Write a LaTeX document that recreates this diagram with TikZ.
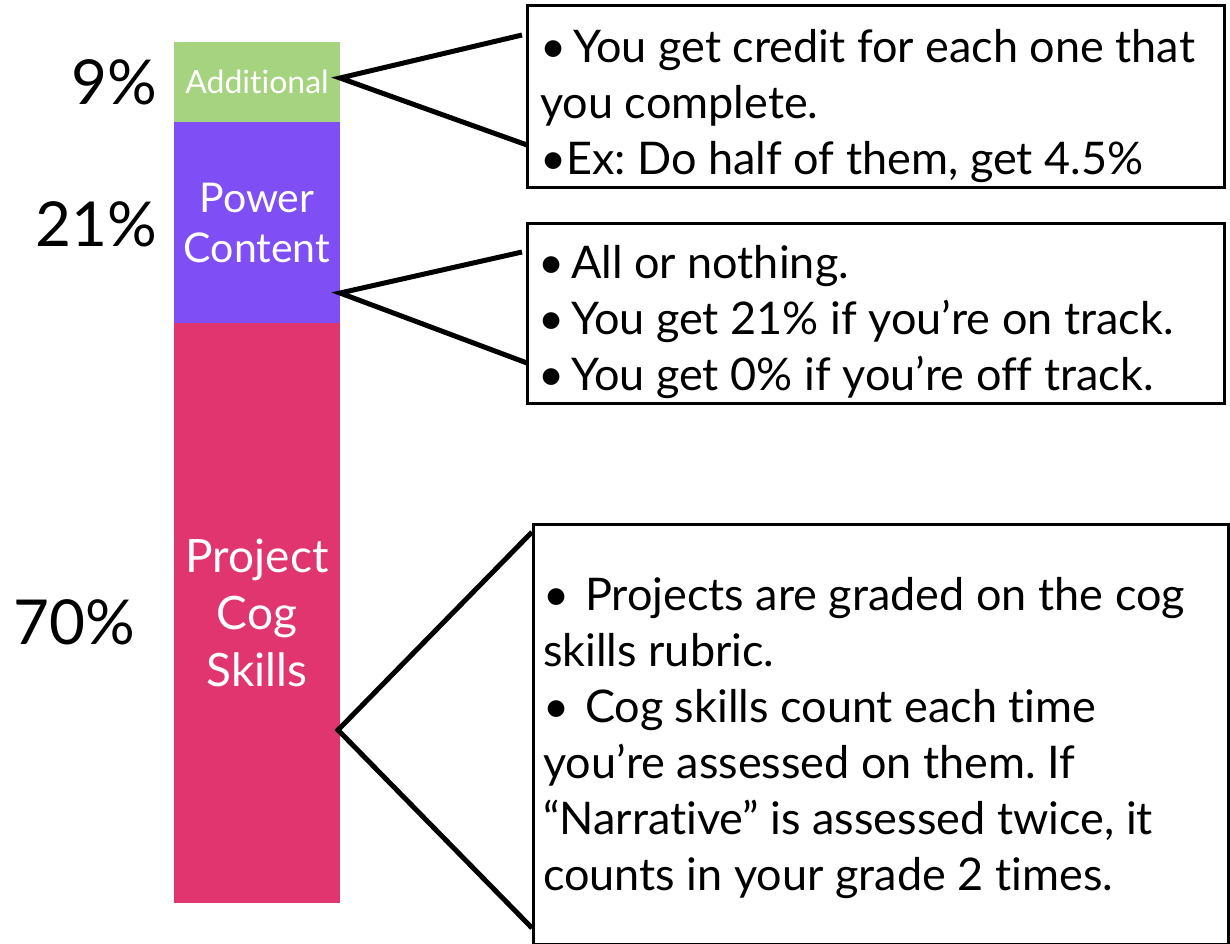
\documentclass[tikz,border=0pt]{standalone}
\usepackage{fontspec}
\setmainfont{Lato}[Ligatures=NoCommon]
\usepackage{xcolor}
\usetikzlibrary{positioning}
\frenchspacing

\definecolor{addgreen}{RGB}{166,211,127}
\definecolor{powerpurple}{RGB}{127,78,244}
\definecolor{cogpink}{RGB}{225,53,112}

\begin{document}
\begin{tikzpicture}[x=1pt,y=-1pt,
  segment/.style={anchor=north west, inner sep=0pt, outer sep=0pt, minimum width=166pt, text=white, align=center},
  percent/.style={inner sep=0pt, font=\fontsize{62}{62}\selectfont},
  notebox/.style={draw, line width=3pt, anchor=north west, inner sep=0pt, outer sep=0pt},
  notetext/.style={anchor=north west, inner sep=0pt, align=left, font=\fontsize{45}{56}\selectfont},
  connector/.style={line width=5pt}]
\useasboundingbox (0,0) rectangle (1230,943);

% the bar
\node[segment, fill=addgreen, minimum height=80pt, font=\fontsize{32}{38}\selectfont] (seg1) at (174,42) {Additional};
\node[segment, fill=powerpurple, minimum height=201pt, font=\fontsize{41}{50}\selectfont] (seg2) at (seg1.south west) {Power\\Content};
\node[segment, fill=cogpink, minimum height=580pt, font=\fontsize{46}{57}\selectfont] (seg3) at (seg2.south west) {Project\\Cog\\Skills};

% percentages
\node[percent, left=17pt of seg1] (pct1) {9\%};
\node[percent, left=17pt of seg2, yshift=-2pt] (pct2) {21\%};
\node[percent, left=39pt of seg3, yshift=-9pt] (pct3) {70\%};

% note boxes
\node[notebox, minimum width=697pt, minimum height=182pt] (note1) at (527,5) {};
\node[notetext] (text1) at (540,29) {•\hspace{0.15em}You get credit for each one that\\you complete.\\•Ex: Do half of them, get 4.5\%};

\node[notebox, minimum width=697pt, minimum height=180pt] (note2) at (527,223) {};
\node[notetext] (text2) at (538,245) {•\hspace{0.15em}All or nothing.\\•\hspace{0.15em}You get 21\% if you’re on track.\\•\hspace{0.15em}You get 0\% if you’re off track.};

\node[notebox, minimum width=695pt, minimum height=420pt] (note3) at (533,524) {};
\node[notetext] (text3) at (543,577) {•\hspace{0.35em}Projects are graded on the cog\\skills rubric.\\•\hspace{0.35em}Cog skills count each time\\you’re assessed on them. If\\“Narrative” is assessed twice, it\\counts in your grade 2 times.};

% connectors
\coordinate (j1) at (340,78);
\coordinate (a1) at (522,35);
\coordinate (b1) at (527,145);
\coordinate (j2) at (340,293);
\coordinate (a2) at (522,252);
\coordinate (b2) at (527,363);
\coordinate (j3) at (338,730);
\coordinate (a3) at (532,532);
\coordinate (b3) at (532,928);
\draw[connector] (a1) -- (j1) -- (b1);
\draw[connector] (a2) -- (j2) -- (b2);
\draw[connector] (a3) -- (j3) -- (b3);
\end{tikzpicture}
\end{document}
